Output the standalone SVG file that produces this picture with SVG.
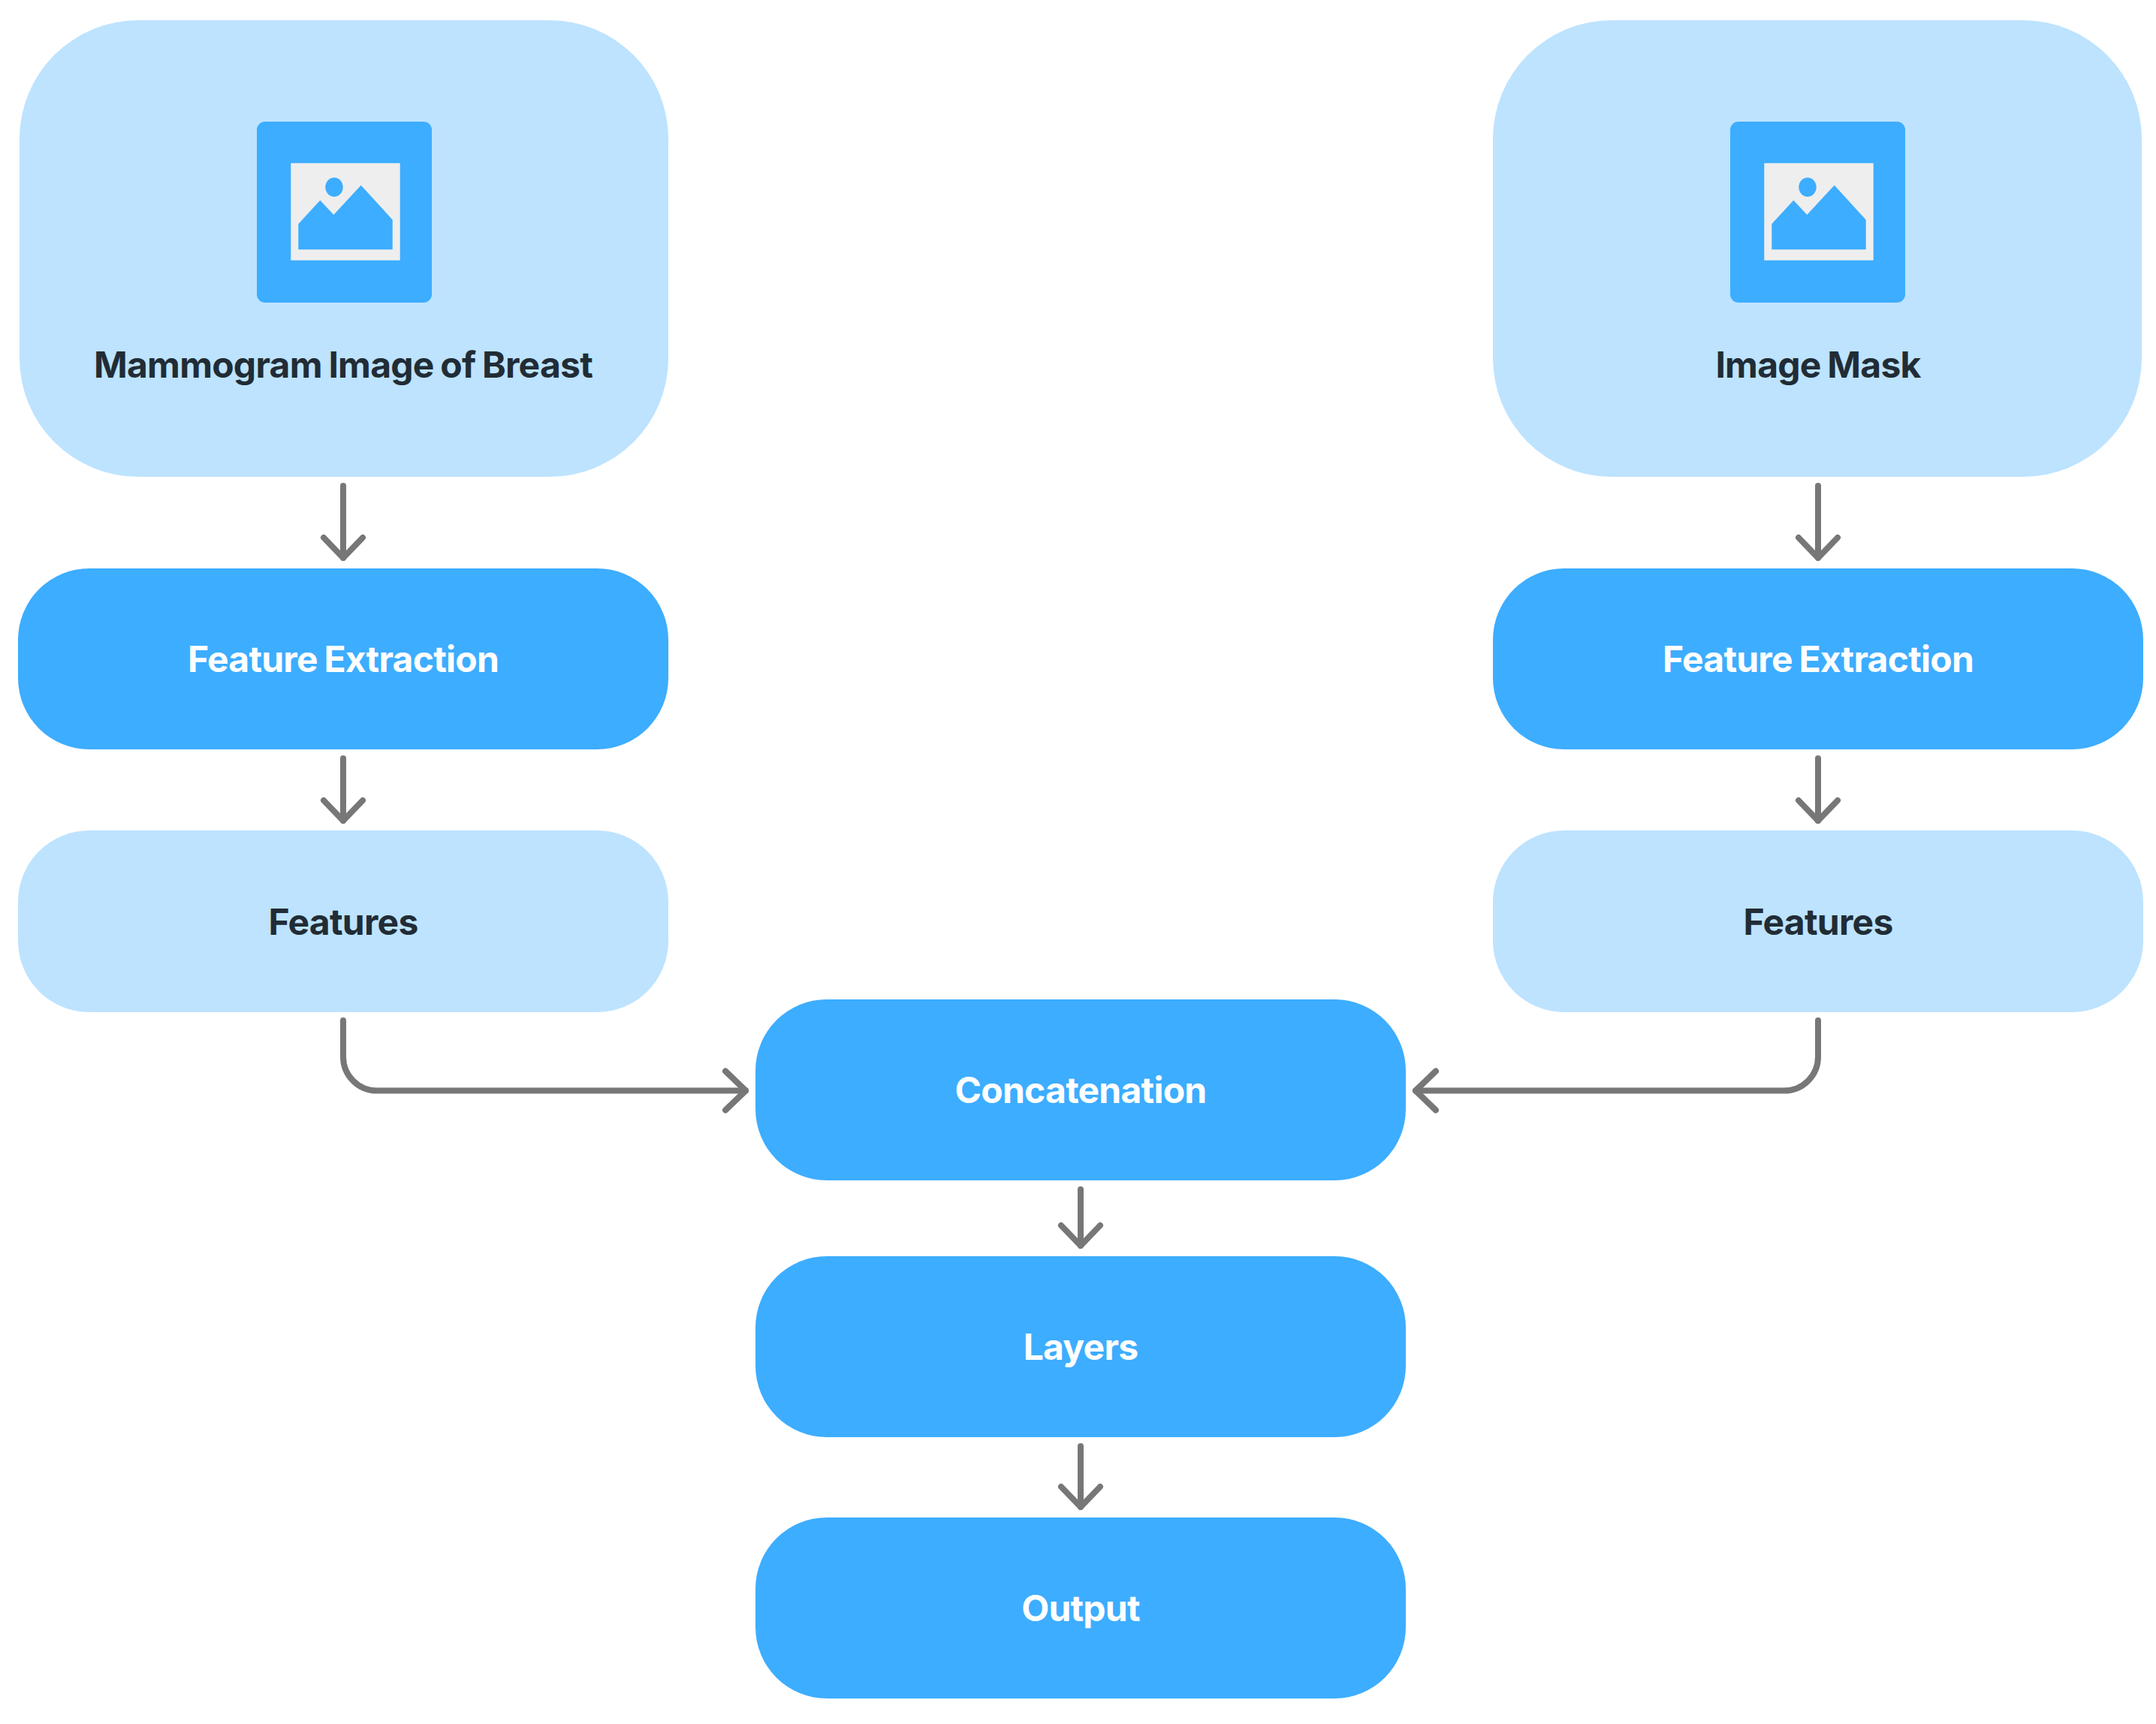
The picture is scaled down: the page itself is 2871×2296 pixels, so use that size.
<svg xmlns="http://www.w3.org/2000/svg" width="2871" height="2296" viewBox="0 0 2871 2296">
<style>
.bg{fill:#fff}
.mid{fill:#3DADFF}
.light{fill:#BDE3FF}
.panel{fill:#EEEEEE}
text{font-family:Inter,"Liberation Sans",sans-serif;font-size:48px;font-weight:700;text-anchor:middle;letter-spacing:-0.75px;word-spacing:-2px}
.w{fill:#fff}
.d{fill:#212C35}
.c{fill:none;stroke:#777777;stroke-width:8;stroke-linecap:round;stroke-linejoin:round}
</style>
<defs>
<marker id="h" markerUnits="userSpaceOnUse" markerWidth="50" markerHeight="80" refX="40" refY="40" orient="auto" overflow="visible">
<path d="M13,14 L40,40 L13,66" fill="none" stroke="#777777" stroke-width="8" stroke-linecap="round" stroke-linejoin="round"/>
</marker>
<g id="icon">
<rect x="342" y="162" width="233" height="241" rx="11" class="mid"/>
<rect x="387.3" y="217.3" width="145.4" height="129.4" class="panel"/>
<ellipse cx="445" cy="249.3" rx="11.7" ry="12.7" class="mid"/>
<path d="M397.3,298.3 L426.3,266.7 L444.3,286 L480.7,246.7 L522.7,292.7 V332.3 H397.3 Z" class="mid"/>
</g>
</defs>
<rect class="bg" width="2871" height="2296"/>
<g id="connectors">
<path class="c" marker-end="url(#h)" d="M457,647 V743"/>
<path class="c" marker-end="url(#h)" d="M457,1010 V1093"/>
<path class="c" marker-end="url(#h)" d="M457,1359 V1407.500 A45,45 0 0 0 502,1452.500 H993"/>
<path class="c" marker-end="url(#h)" d="M2421,647 V743"/>
<path class="c" marker-end="url(#h)" d="M2421,1010 V1093"/>
<path class="c" marker-end="url(#h)" d="M2421,1359 V1407.500 A45,45 0 0 1 2376,1452.500 H1885"/>
<path class="c" marker-end="url(#h)" d="M1439,1584 V1659"/>
<path class="c" marker-end="url(#h)" d="M1439,1926 V2007"/>
</g>
<g id="mammogram"><rect x="26" y="27" width="864" height="608" rx="158" class="light"/><use href="#icon"/><text x="457" y="503" class="d">Mammogram Image of Breast</text></g>
<g id="fe-left"><rect x="24" y="757" width="866" height="241" rx="95" class="mid"/><text x="457" y="895" class="w">Feature Extraction</text></g>
<g id="features-left"><rect x="24" y="1106" width="866" height="242" rx="95" class="light"/><text x="457" y="1245" class="d">Features</text></g>
<g id="mask"><rect x="1988" y="27" width="864" height="608" rx="158" class="light"/><use href="#icon" x="1962"/><text x="2421" y="503" class="d">Image Mask</text></g>
<g id="fe-right"><rect x="1988" y="757" width="866" height="241" rx="95" class="mid"/><text x="2421" y="895" class="w">Feature Extraction</text></g>
<g id="features-right"><rect x="1988" y="1106" width="866" height="242" rx="95" class="light"/><text x="2421" y="1245" class="d">Features</text></g>
<g id="concat"><rect x="1006" y="1331" width="866" height="241" rx="95" class="mid"/><text x="1439" y="1469" class="w">Concatenation</text></g>
<g id="layers"><rect x="1006" y="1673" width="866" height="241" rx="95" class="mid"/><text x="1439" y="1811" class="w">Layers</text></g>
<g id="output"><rect x="1006" y="2021" width="866" height="241" rx="95" class="mid"/><text x="1439" y="2159" class="w">Output</text></g>
</svg>
